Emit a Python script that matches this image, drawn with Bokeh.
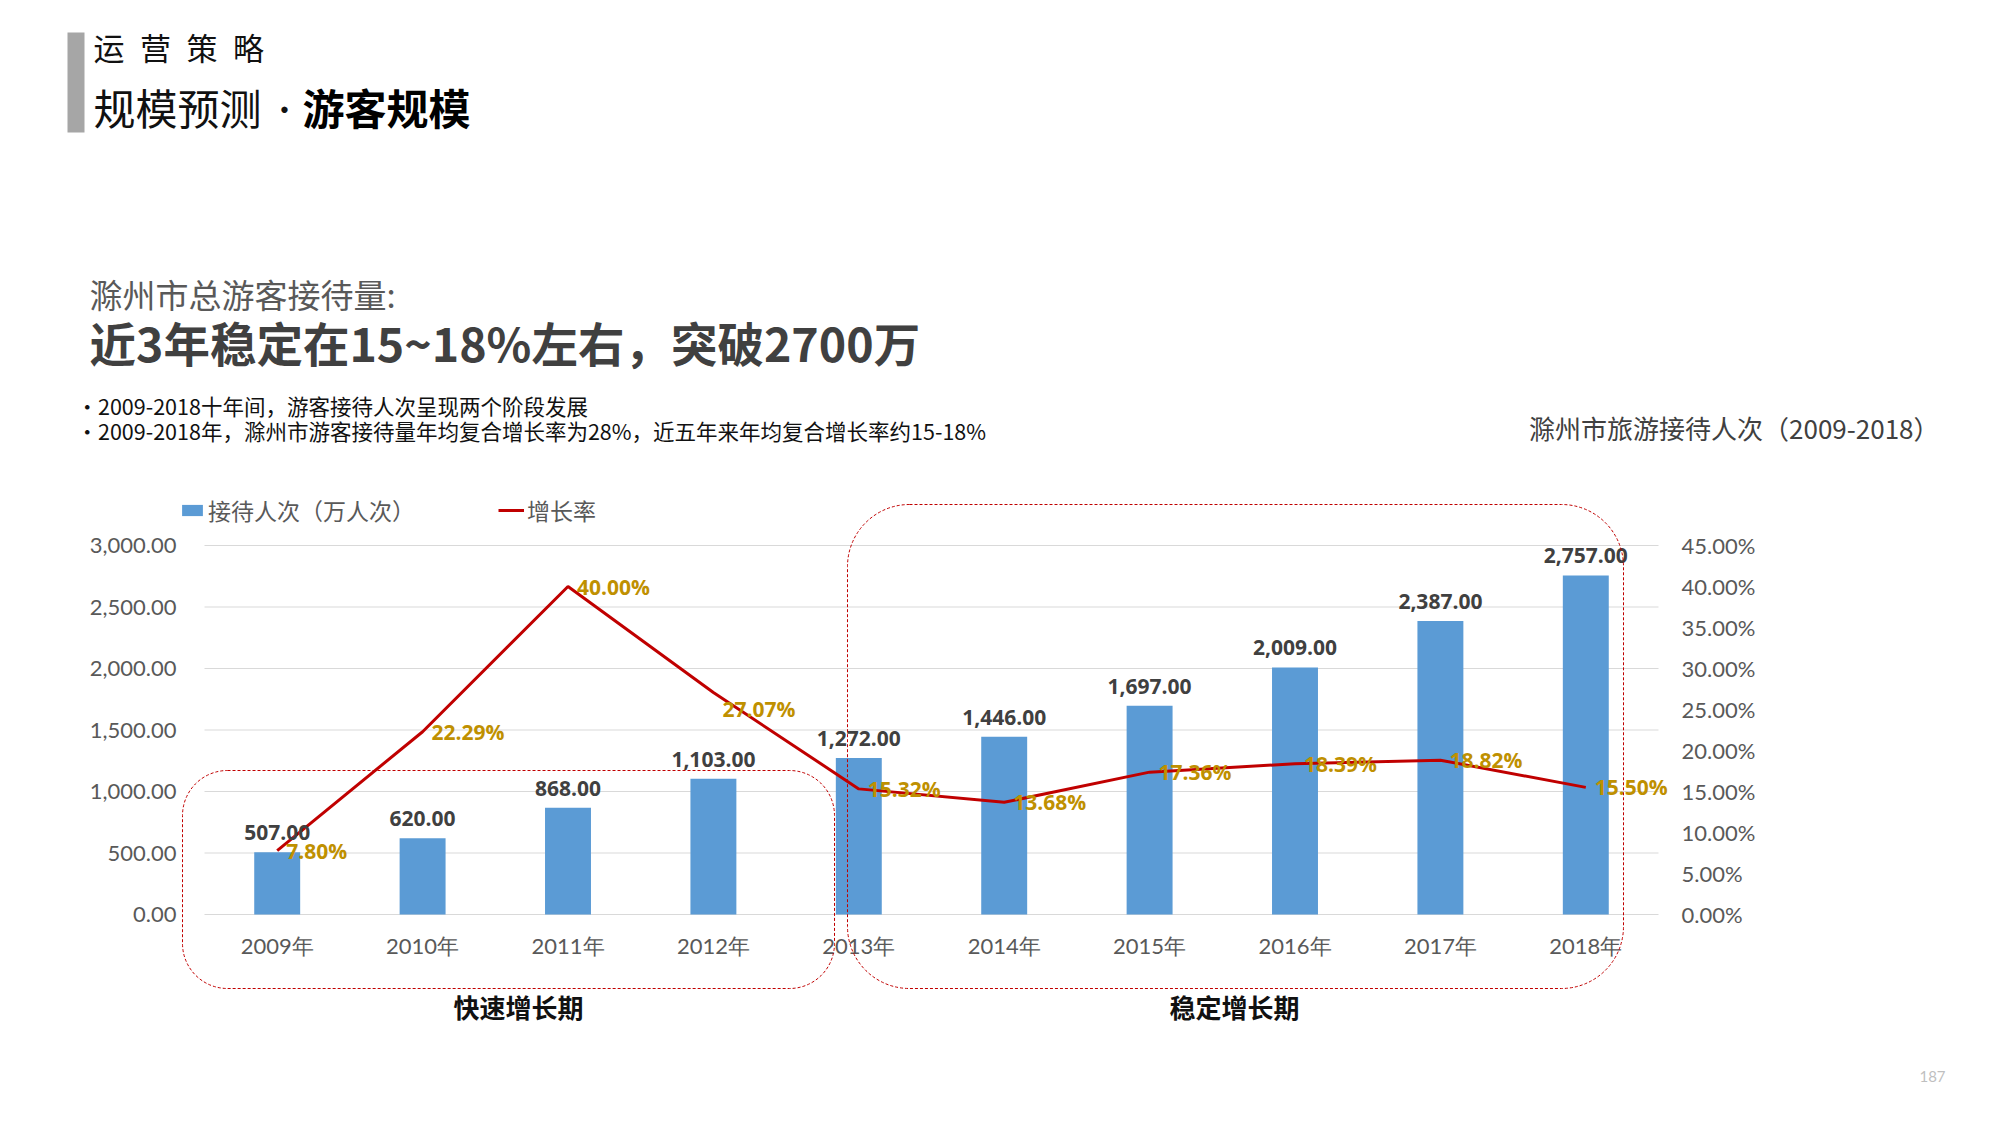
from bokeh.plotting import figure
from bokeh.models import (ColumnDataSource, Range1d, LabelSet, Label, BoxAnnotation,
                          Legend, LegendItem)
from bokeh.core.properties import value
from bokeh.embed import file_html
from bokeh.resources import INLINE

# ---------------- data ----------------
years = ["2009年", "2010年", "2011年", "2012年", "2013年",
         "2014年", "2015年", "2016年", "2017年", "2018年"]
visitors = [507, 620, 868, 1103, 1272, 1446, 1697, 2009, 2387, 2757]
growth = [7.80, 22.29, 40.00, 27.07, 15.32, 13.68, 17.36, 18.39, 18.82, 15.50]
left_ticks = [0, 500, 1000, 1500, 2000, 2500, 3000]
right_ticks = [0, 5, 10, 15, 20, 25, 30, 35, 40, 45]
phases = ["快速增长期", "稳定增长期"]

# ---------------- layout (pixels) ----------------
W, H = 1996, 1123
FL, FR, FT, FB = 204, 1658, 545, 914          # plotting area of the chart
CJK = "Noto Sans CJK SC"
NUM = "Lato"
BNUM = "Open Sans"

n = len(years)
px_cat = (FR - FL) / n
px_left = (FB - FT) / left_ticks[-1]
px_right = (FB - FT) / right_ticks[-1]

p = figure(width=W, height=H, output_backend="svg", toolbar_location=None,
           x_range=Range1d(-FL / px_cat, (W - FL) / px_cat),
           y_range=Range1d(-(H - FB) / px_left, FB / px_left),
           x_axis_type=None, y_axis_type=None,
           min_border=0, min_border_left=0, min_border_right=0,
           min_border_top=0, min_border_bottom=0,
           outline_line_color=None, background_fill_color="white",
           border_fill_color="white")
p.extra_y_ranges = {"pct": Range1d(-(H - FB) / px_right, FB / px_right)}
p.xgrid.visible = False
p.ygrid.visible = False


def sx(px):
    return px


def sy(py):
    return H - py


xc = [i + 0.5 for i in range(n)]
src = ColumnDataSource(dict(
    x=xc, year=years, visitors=visitors, growth=growth,
    vis_label=["{:,.2f}".format(v) for v in visitors],
    g_label=["{:.2f}%".format(g) for g in growth],
    g_dy=[0, 0, 0, -16, 0, 0, 0, 0, 0, 0],
    base=[0] * n,
))

# grid lines (left-axis ticks)
lsrc = ColumnDataSource(dict(v=left_ticks, x0=[0] * len(left_ticks),
                             x1=[n] * len(left_ticks),
                             t=["{:,.2f}".format(v) for v in left_ticks]))
p.segment(x0="x0", x1="x1", y0="v", y1="v", source=lsrc, line_color="#D9D9D9", line_width=1)

# axis tick labels
p.add_layout(LabelSet(x="x0", y="v", text="t", source=lsrc, text_align="right",
                      text_baseline="middle", x_offset=-28, text_font=value(NUM),
                      text_font_size="22px", text_color="#595959"))
rsrc = ColumnDataSource(dict(v=right_ticks, x=[n] * len(right_ticks),
                             t=["{:.2f}%".format(v) for v in right_ticks]))
p.add_layout(LabelSet(x="x", y="v", text="t", source=rsrc, y_range_name="pct",
                      text_align="left", text_baseline="middle", x_offset=23,
                      text_font=value(NUM), text_font_size="22px", text_color="#595959"))
p.add_layout(LabelSet(x="x", y="base", text="year", source=src, text_align="center",
                      text_baseline="middle", y_offset=-31, text_font=value(NUM),
                      text_font_size="22px", text_color="#595959"))

# glyphs
bars = p.vbar(x="x", top="visitors", width=0.316, source=src,
              fill_color="#5B9BD5", line_color=None)
line = p.line(x="x", y="growth", source=src, y_range_name="pct",
              line_color="#C00000", line_width=3)

p.add_layout(LabelSet(x="x", y="visitors", text="vis_label", source=src,
                      text_align="center", text_baseline="alphabetic", y_offset=12,
                      text_font=value(BNUM), text_font_style="bold", text_font_size="21px",
                      text_color="#404040"))
p.add_layout(LabelSet(x="x", y="growth", text="g_label", source=src, y_range_name="pct",
                      text_align="left", text_baseline="middle", x_offset=9, y_offset="g_dy",
                      text_font=value(BNUM), text_font_style="bold", text_font_size="21px",
                      text_color="#BF9000"))

# legend
legend = Legend(items=[LegendItem(label="接待人次（万人次）", renderers=[bars]),
                       LegendItem(label="增长率", renderers=[line])],
                location=(sx(179), sy(527)), orientation="horizontal",
                glyph_width=26, glyph_height=14, label_height=24, label_standoff=3,
                spacing=83, padding=0, margin=0, border_line_color=None,
                background_fill_alpha=0, label_text_font=CJK,
                label_text_font_size="23px", label_text_color="#595959")
p.add_layout(legend)

# dashed phase boxes
for (l, r, t, b, rad) in [(182, 834, 770, 988, 45), (847, 1623, 504, 988, 62)]:
    p.add_layout(BoxAnnotation(left=sx(l), right=sx(r), top=sy(t), bottom=sy(b),
                               left_units="screen", right_units="screen",
                               top_units="screen", bottom_units="screen",
                               fill_alpha=0, line_color="#C00000", line_alpha=1,
                               line_width=1, line_dash="3 2", border_radius=rad))

for txt, cx in zip(phases, [518, 1234]):
    p.add_layout(Label(x=sx(cx), y=sy(1006), x_units="screen", y_units="screen", text=txt,
                       text_align="center", text_baseline="middle", text_font=CJK,
                       text_font_style="bold", text_font_size="26px", text_color="#111111"))

# header bar
p.add_layout(BoxAnnotation(left=sx(67), right=sx(84), top=sy(32), bottom=sy(132),
                           left_units="screen", right_units="screen",
                           top_units="screen", bottom_units="screen",
                           fill_color="#A6A6A6", fill_alpha=1, line_color=None,
                           line_alpha=0))


def lab(text, x, y, size, color="#000000", bold=False, align="left", font=CJK):
    p.add_layout(Label(x=sx(x), y=sy(y), x_units="screen", y_units="screen", text=text,
                       text_align=align, text_baseline="middle", text_font=font,
                       text_font_style="bold" if bold else "normal",
                       text_font_size=f"{size}px", text_color=color))


lab("运\u2002营\u2002策\u2002略", 93, 46, 31, "#111111")
lab("规模预测", 93, 106, 42, "#111111")
lab("·", 284, 106, 42, "#111111", align="center", font=NUM)
lab("游客规模", 302, 106, 42, "#000000", bold=True)
lab("滁州市总游客接待量:", 89, 293, 33, "#595959")
lab("近3年稳定在15~18%左右，突破2700万", 89, 341, 46.5, "#404040", bold=True)
lab("•2009-2018十年间，游客接待人次呈现两个阶段发展", 76, 405, 21.5, "#111111")
lab("•2009-2018年，滁州市游客接待量年均复合增长率为28%，近五年来年均复合增长率约15-18%",
    76, 430, 21.5, "#111111")
lab("滁州市旅游接待人次（2009-2018）", 1939, 427, 26, "#404040", align="right")
lab("187", 1932, 1076, 15, "#BFBFBF", align="center", font=NUM)

open("out.html", "w").write(file_html(p, INLINE))
